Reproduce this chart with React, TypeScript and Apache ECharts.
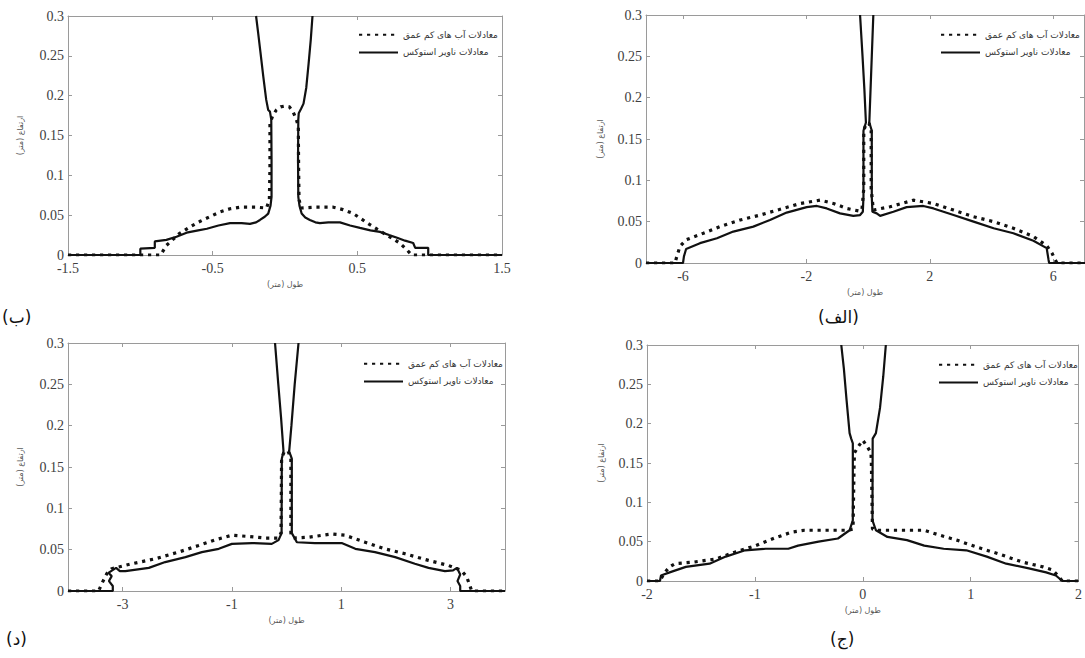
import React, { useEffect, useRef } from "react";
import * as echarts from "echarts";

const SWE = "معادلات آب های کم عمق";
const NS = "معادلات ناویر استوکس";
const X_NAME = "طول (متر)";
const Y_NAME = "ارتفاع (متر)";
const PANEL_LABELS = ["(ب)", "(الف)", "(د)", "(ج)"];
const Y_TICKS = { min: 0, max: 0.3, interval: 0.05 };

// Panel (ب) – top left
const bShallow: [number, number][] = [
  [-1.5, 0], [-0.86, 0], [-0.82, 0.012], [-0.73, 0.027], [-0.65, 0.036], [-0.59, 0.042], [-0.52, 0.048],
  [-0.45, 0.054], [-0.38, 0.058], [-0.31, 0.06], [-0.2, 0.06], [-0.127, 0.059], [-0.108, 0.07], [-0.104, 0.11],
  [-0.104, 0.165], [-0.085, 0.175], [-0.06, 0.182], [-0.03, 0.186], [0, 0.187], [0.03, 0.186], [0.055, 0.18],
  [0.075, 0.172], [0.092, 0.162], [0.094, 0.11], [0.097, 0.07], [0.11, 0.059], [0.2, 0.06], [0.334, 0.06],
  [0.4, 0.057], [0.472, 0.052], [0.53, 0.045], [0.587, 0.038], [0.65, 0.031], [0.703, 0.025], [0.75, 0.02],
  [0.795, 0.0146], [0.84, 0.007], [0.876, 0], [1.5, 0],
];
const bNSLeft: [number, number][] = [
  [-1.5, 0], [-1.0, 0], [-1.0, 0.008], [-0.9, 0.009], [-0.9, 0.017], [-0.82, 0.019], [-0.75, 0.023],
  [-0.68, 0.028], [-0.6, 0.031], [-0.54, 0.033], [-0.46, 0.037], [-0.38, 0.04], [-0.3, 0.04], [-0.242, 0.039],
  [-0.2, 0.041], [-0.173, 0.044], [-0.14, 0.048], [-0.116, 0.052], [-0.1, 0.062], [-0.093, 0.073],
  [-0.093, 0.12], [-0.095, 0.17], [-0.104, 0.18], [-0.116, 0.182], [-0.13, 0.195], [-0.15, 0.224],
  [-0.17, 0.255], [-0.185, 0.278], [-0.2, 0.3],
];
const bNSRight: [number, number][] = [
  [0.19, 0.3], [0.178, 0.27], [0.163, 0.24], [0.147, 0.21], [0.128, 0.19], [0.112, 0.184], [0.095, 0.178],
  [0.092, 0.17], [0.09, 0.12], [0.092, 0.073], [0.1, 0.062], [0.115, 0.052], [0.14, 0.047], [0.172, 0.044],
  [0.21, 0.041], [0.241, 0.04], [0.3, 0.041], [0.38, 0.041], [0.45, 0.037], [0.518, 0.034], [0.59, 0.031],
  [0.656, 0.029], [0.72, 0.025], [0.77, 0.022], [0.83, 0.018], [0.886, 0.015], [0.9, 0.009], [0.99, 0.009],
  [0.99, 0], [1.5, 0],
];

// Panel (الف) – top right
const aShallow: [number, number][] = [
  [-7.2, 0], [-6.26, 0], [-6.2, 0.008], [-6.1, 0.02], [-5.9, 0.028], [-5.34, 0.036], [-4.8, 0.044],
  [-4.15, 0.052], [-3.5, 0.058], [-2.85, 0.065], [-2.2, 0.072], [-1.56, 0.076], [-1.12, 0.072],
  [-0.69, 0.066], [-0.31, 0.063], [-0.2, 0.064], [-0.14, 0.09], [-0.14, 0.16], [-0.06, 0.169],
  [0.03, 0.169], [0.1, 0.16], [0.1, 0.09], [0.17, 0.064], [0.71, 0.068], [1.47, 0.076], [2.12, 0.072],
  [2.77, 0.064], [3.42, 0.056], [4.07, 0.05], [4.71, 0.042], [5.36, 0.032], [5.79, 0.021], [5.96, 0.012],
  [6.12, 0], [7.2, 0],
];
const aNSLeft: [number, number][] = [
  [-7.2, 0], [-6.0, 0], [-5.97, 0.008], [-5.9, 0.017], [-5.45, 0.024], [-4.9, 0.03], [-4.37, 0.038],
  [-3.72, 0.044], [-3.18, 0.052], [-2.64, 0.061], [-1.99, 0.0676], [-1.66, 0.069], [-1.34, 0.066],
  [-0.91, 0.06], [-0.48, 0.057], [-0.26, 0.058], [-0.17, 0.062], [-0.15, 0.08], [-0.15, 0.16],
  [-0.07, 0.17], [-0.12, 0.21], [-0.18, 0.25], [-0.26, 0.3],
];
const aNSRight: [number, number][] = [
  [0.17, 0.3], [0.12, 0.25], [0.08, 0.21], [0.04, 0.17], [0.12, 0.16], [0.12, 0.08], [0.14, 0.062],
  [0.28, 0.06], [0.39, 0.057], [0.82, 0.062], [1.25, 0.0676], [1.79, 0.069], [2.12, 0.066], [2.77, 0.058],
  [3.42, 0.05], [4.07, 0.042], [4.71, 0.036], [5.36, 0.027], [5.79, 0.018], [5.85, 0.004], [5.87, 0],
  [7.2, 0],
];

// Panel (د) – bottom left
const dShallow: [number, number][] = [
  [-4, 0], [-3.44, 0], [-3.38, 0.009], [-3.29, 0.021], [-3.2, 0.027], [-2.83, 0.033], [-2.4, 0.039],
  [-1.98, 0.047], [-1.61, 0.055], [-1.3, 0.062], [-1.0, 0.0675], [-0.7, 0.066], [-0.39, 0.064],
  [-0.15, 0.064], [-0.1, 0.07], [-0.09, 0.16], [-0.04, 0.169], [0.03, 0.169], [0.08, 0.16], [0.08, 0.07],
  [0.13, 0.064], [0.4, 0.065], [0.83, 0.069], [1.07, 0.0675], [1.44, 0.059], [1.8, 0.051], [2.17, 0.045],
  [2.6, 0.037], [2.96, 0.031], [3.2, 0.025], [3.3, 0.017], [3.36, 0.006], [3.39, 0], [4, 0],
];
const dNSLeft: [number, number][] = [
  [-4, 0], [-3.18, 0], [-3.18, 0.006], [-3.25, 0.012], [-3.2, 0.018], [-3.26, 0.022], [-3.12, 0.028],
  [-3.05, 0.024], [-2.95, 0.024], [-2.52, 0.028], [-2.22, 0.035], [-1.85, 0.041], [-1.55, 0.047],
  [-1.24, 0.051], [-1.0, 0.057], [-0.63, 0.058], [-0.27, 0.057], [-0.146, 0.0615], [-0.09, 0.07],
  [-0.086, 0.16], [-0.055, 0.169], [-0.1, 0.21], [-0.15, 0.25], [-0.21, 0.3],
];
const dNSRight: [number, number][] = [
  [0.22, 0.3], [0.15, 0.25], [0.09, 0.2], [0.049, 0.169], [0.097, 0.16], [0.097, 0.07], [0.19, 0.059],
  [0.52, 0.058], [1.01, 0.058], [1.26, 0.051], [1.62, 0.047], [1.99, 0.041], [2.35, 0.033], [2.6, 0.028],
  [2.9, 0.024], [3.05, 0.025], [3.12, 0.028], [3.18, 0.02], [3.13, 0.012], [3.18, 0.006], [3.18, 0], [4, 0],
];

// Panel (ج) – bottom right
const cShallow: [number, number][] = [
  [-2, 0], [-1.88, 0], [-1.84, 0.01], [-1.79, 0.018], [-1.74, 0.022], [-1.57, 0.024], [-1.36, 0.028],
  [-1.18, 0.037], [-0.99, 0.045], [-0.81, 0.055], [-0.66, 0.062], [-0.54, 0.0645], [-0.14, 0.0645],
  [-0.09, 0.066], [-0.08, 0.15], [-0.076, 0.163], [-0.046, 0.17], [0, 0.179], [0.046, 0.17], [0.076, 0.163],
  [0.08, 0.15], [0.09, 0.066], [0.12, 0.0645], [0.57, 0.0645], [0.72, 0.058], [0.87, 0.052], [1.06, 0.043],
  [1.27, 0.034], [1.48, 0.024], [1.67, 0.018], [1.76, 0.014], [1.82, 0.005], [1.85, 0], [2, 0],
];
const cNSLeft: [number, number][] = [
  [-2, 0], [-1.88, 0], [-1.87, 0.007], [-1.79, 0.011], [-1.64, 0.018], [-1.42, 0.022], [-1.27, 0.031],
  [-1.09, 0.039], [-0.9, 0.041], [-0.69, 0.041], [-0.6, 0.045], [-0.41, 0.05], [-0.23, 0.054],
  [-0.122, 0.0645], [-0.092, 0.077], [-0.092, 0.175], [-0.107, 0.181], [-0.122, 0.188], [-0.15, 0.23],
  [-0.175, 0.27], [-0.199, 0.3],
];
const cNSRight: [number, number][] = [
  [0.214, 0.3], [0.19, 0.26], [0.16, 0.22], [0.122, 0.188], [0.092, 0.181], [0.09, 0.077], [0.122, 0.0645],
  [0.229, 0.056], [0.41, 0.052], [0.57, 0.045], [0.75, 0.041], [0.96, 0.039], [1.15, 0.031], [1.33, 0.022],
  [1.54, 0.016], [1.7, 0.011], [1.79, 0.007], [1.85, 0], [2, 0],
];

// x-axis tick values per panel
const bXTicks = [-1.5, -0.5, 0.5, 1.5];
const aXTicks = [-6, -2, 2, 6];
const dXTicks = [-3, -1, 1, 3];
const cXTicks = [-2, -1, 0, 1, 2];

const panels = [
  { grid: { left: 68, top: 16, width: 434, height: 239 }, xMin: -1.5, xMax: 1.5, ticks: bXTicks,
    shallow: bShallow, nsL: bNSLeft, nsR: bNSRight, legend: { left: 353, top: 25 }, yNameGap: 44,
    label: { x: 2, y: 308 } },
  { grid: { left: 646, top: 15, width: 438, height: 248 }, xMin: -7.2, xMax: 7, ticks: aXTicks,
    shallow: aShallow, nsL: aNSLeft, nsR: aNSRight, legend: { left: 935, top: 25 }, yNameGap: 42,
    label: { x: 818, y: 308 } },
  { grid: { left: 68, top: 343, width: 437, height: 248 }, xMin: -4, xMax: 4, ticks: dXTicks,
    shallow: dShallow, nsL: dNSLeft, nsR: dNSRight, legend: { left: 358, top: 354 }, yNameGap: 44,
    label: { x: 6, y: 630 } },
  { grid: { left: 647, top: 345, width: 436, height: 236 }, xMin: -2, xMax: 2, ticks: cXTicks,
    shallow: cShallow, nsL: cNSLeft, nsR: cNSRight, legend: { left: 933, top: 355 }, yNameGap: 42,
    label: { x: 830, y: 630 } },
];

const AXIS_COLOR = "#9a9a9a";
const LABEL_COLOR = "#404040";
const SERIF = "'Liberation Serif', 'Times New Roman', serif";
const ARABIC = "'DejaVu Sans', sans-serif";

function buildOption() {
  const grid: any[] = [];
  const xAxis: any[] = [];
  const yAxis: any[] = [];
  const series: any[] = [];
  const legend: any[] = [];
  const graphic: any[] = [];

  panels.forEach((p, i) => {
    grid.push({ ...p.grid, containLabel: false, show: false });
    const tickCommon = { inside: true, length: 4, lineStyle: { color: AXIS_COLOR, width: 1 }, customValues: p.ticks };
    xAxis.push({
      type: "value", gridIndex: i, min: p.xMin, max: p.xMax, position: "bottom",
      name: X_NAME, nameLocation: "middle", nameGap: 25,
      nameTextStyle: { fontFamily: ARABIC, fontSize: 8, color: "#555" },
      axisLine: { show: true, onZero: false, lineStyle: { color: AXIS_COLOR, width: 1 } },
      axisTick: tickCommon,
      axisLabel: { show: true, customValues: p.ticks, color: LABEL_COLOR, fontFamily: SERIF, fontSize: 14, margin: 6 },
      splitLine: { show: false },
    });
    xAxis.push({
      type: "value", gridIndex: i, min: p.xMin, max: p.xMax, position: "top",
      axisLine: { show: true, onZero: false, lineStyle: { color: AXIS_COLOR, width: 1 } },
      axisTick: tickCommon,
      axisLabel: { show: false, customValues: p.ticks },
      splitLine: { show: false },
    });
    const yTick = { inside: true, length: 4, lineStyle: { color: AXIS_COLOR, width: 1 } };
    yAxis.push({
      type: "value", gridIndex: i, ...Y_TICKS, position: "left",
      name: Y_NAME, nameLocation: "middle", nameRotate: 90, nameGap: p.yNameGap,
      nameTextStyle: { fontFamily: ARABIC, fontSize: 8, color: "#555" },
      axisLine: { show: true, onZero: false, lineStyle: { color: AXIS_COLOR, width: 1 } },
      axisTick: yTick,
      axisLabel: { color: LABEL_COLOR, fontFamily: SERIF, fontSize: 14, margin: 4 },
      splitLine: { show: false },
    });
    yAxis.push({
      type: "value", gridIndex: i, ...Y_TICKS, position: "right",
      axisLine: { show: true, onZero: false, lineStyle: { color: AXIS_COLOR, width: 1 } },
      axisTick: yTick,
      axisLabel: { show: false },
      splitLine: { show: false },
    });
    const xi = i * 2;
    const yi = i * 2;
    series.push({
      name: SWE, type: "line", xAxisIndex: xi, yAxisIndex: yi, data: p.shallow,
      symbol: "none", clip: true,
      lineStyle: { color: "#111", width: 3.2, type: [3.2, 4.8], cap: "butt" },
      itemStyle: { color: "#111" },
    });
    series.push({
      name: NS, type: "line", xAxisIndex: xi, yAxisIndex: yi, data: p.nsL,
      symbol: "none", clip: true, lineStyle: { color: "#111", width: 2.2 }, itemStyle: { color: "#111" },
    });
    series.push({
      name: NS, type: "line", xAxisIndex: xi, yAxisIndex: yi, data: p.nsR,
      symbol: "none", clip: true, lineStyle: { color: "#111", width: 2.2 }, itemStyle: { color: "#111" },
    });
    legend.push({
      show: true, orient: "vertical", left: p.legend.left, top: p.legend.top, align: "left",
      itemWidth: 39, itemHeight: 12, itemGap: 8, selectedMode: false,
      itemStyle: { color: "rgba(0,0,0,0)", borderWidth: 0, opacity: 0 },
      data: [{ name: SWE }, { name: NS }],
      textStyle: { fontFamily: ARABIC, fontSize: 9, color: "#333" },
      backgroundColor: "transparent",
    });
    graphic.push({
      type: "text", x: p.label.x, y: p.label.y,
      style: { text: PANEL_LABELS[i], fontFamily: ARABIC, fontSize: 17, fill: "#111" },
    });
  });

  return { animation: false, backgroundColor: "#ffffff", grid, xAxis, yAxis, series, legend, graphic };
}

export default function App() {
  const ref = useRef<HTMLDivElement>(null);
  useEffect(() => {
    if (!ref.current) return;
    const chart = echarts.init(ref.current, undefined, { renderer: "svg" });
    chart.setOption(buildOption() as any);
    return () => chart.dispose();
  }, []);
  return (
    <div
      ref={ref}
      style={{ position: "absolute", left: 0, top: 0, width: 1085, height: 658, background: "#fff" }}
    />
  );
}
